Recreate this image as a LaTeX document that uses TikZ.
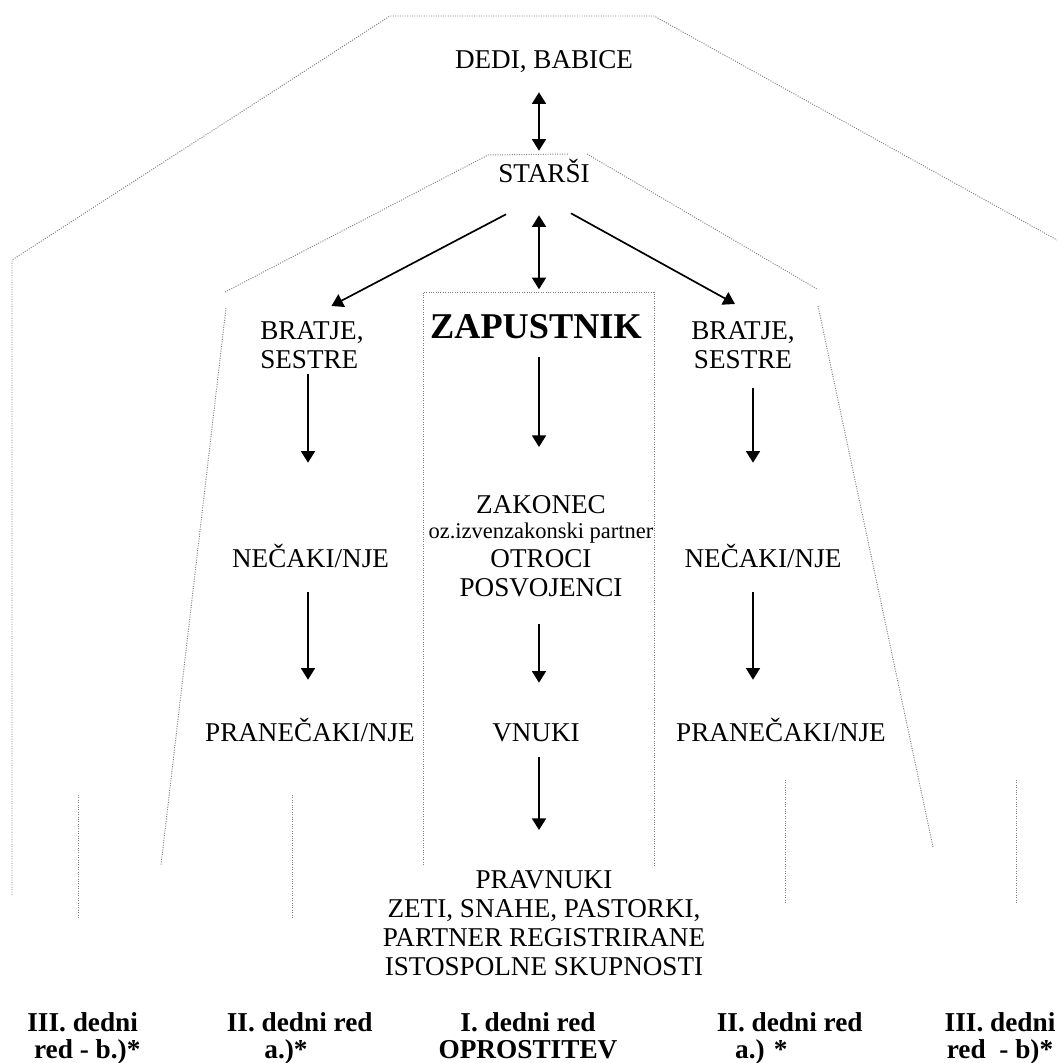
\documentclass[tikz,border=0pt]{standalone}
\usepackage{fontspec}
\setmainfont{Liberation Serif}
\usetikzlibrary{arrows.meta}

\tikzset{
  txt/.style={inner sep=0pt, font=\fontsize{19.3}{20.6}\selectfont, text height=12.8pt, text depth=0pt, anchor=base},
  txtm/.style={inner sep=0pt, font=\fontsize{19.3}{20.6}\selectfont, align=center, anchor=north},
  order/.style={inner sep=0pt, font=\bfseries\fontsize{19.4}{19.2}\selectfont, align=center, anchor=north},
  guide/.style={densely dotted, draw=gray, line width=0.7pt},
  line/.style={draw, line width=1.2pt},
  >={Triangle[width=0.35cm,length=0.29cm]}
}

\begin{document}
\begin{tikzpicture}[x=0.025cm, y=-0.025cm]
  \useasboundingbox (0,0) rectangle (1057,1063);

  % dotted borders of the orders
  \draw[guide] (12,895) -- (12,260) -- (390,16) -- (654,16) -- (1057,240);
  \draw[guide] (225,292) -- (488,155) -- (569,154);
  \draw[guide] (587,154) -- (817,289);
  \draw[guide] (226,308) -- (161,865);
  \draw[guide] (818,306) -- (933,847);
  \draw[guide] (423,865) -- (423,292) -- (654,292) -- (654,865);
  \foreach \x/\ya/\yb in {78/795/918, 292/795/918, 785/780/903, 1016/780/903}
    \draw[guide] (\x,\ya) -- (\x,\yb);

  % relatives
  \node[txt] (dedi) at (544,69) {DEDI, BABICE};
  \node[txt] (starsi) at (544,183) {STARŠI};
  \node[txt, font=\bfseries\fontsize{25.8}{28}\selectfont, text height=17.4pt] (zap) at (536,338) {ZAPUSTNIK};
  \node[txtm, align=left, anchor=north west] (bratjeL) at (260,321) {BRATJE,\\SESTRE};
  \node[txtm] (bratjeR) at (743,321) {BRATJE,\\SESTRE};
  \node[txt] (necakiL) at (310.5,567) {NEČAKI/NJE};
  \node[txt] (necakiR) at (763,567) {NEČAKI/NJE};
  \node[txt] (pranL) at (310,741) {PRANEČAKI/NJE};
  \node[txt] (pranR) at (781,741) {PRANEČAKI/NJE};
  \node[txtm] (zak) at (541,495) {ZAKONEC\\[-2.9pt]{\fontsize{16}{17}\selectfont oz.izvenzakonski partner}\\OTROCI\\POSVOJENCI};
  \node[txt] (vnuki) at (536,741) {VNUKI};
  \node[txtm] (prav) at (544,870) {PRAVNUKI\\ZETI, SNAHE, PASTORKI,\\PARTNER REGISTRIRANE\\ISTOSPOLNE SKUPNOSTI};

  % orders
  \node[order, align=left, anchor=north west] (red3L) at (27,1012) {III. dedni\\\hspace*{0.17cm}red - b.)*};
  \node[order, align=left, anchor=north west] (red2L) at (226.5,1012) {II. dedni red\\\hspace*{0.94cm}a.)*};
  \node[order] (red1) at (528,1012) {I. dedni red\\OPROSTITEV};
  \node[order, align=left, anchor=north west] (red2R) at (716.5,1012) {II. dedni red\\\hspace*{0.46cm}a.) *};
  \node[order] (red3R) at (1000,1012) {III. dedni\\red\ \ - b)*};

  % arrows
  \coordinate (axisC) at (539,0);
  \coordinate (axisL) at (308,0);
  \coordinate (axisR) at (753,0);
  \draw[line, <->, shorten <=0.575cm, shorten >=0.35cm] (dedi.south -| axisC) -- (starsi.north -| axisC);
  \draw[line, <->, shorten <=0.8cm, shorten >=0.6cm] (starsi.south -| axisC) -- (zap.north -| axisC);
  \draw[line, ->] ([shift={(8,31)}]starsi.south west) -- ([shift={(19.5,-15)}]bratjeL.north);
  \draw[line, ->] ([shift={(-19,30)}]starsi.south east) -- ([shift={(-8,-17)}]bratjeR.north);
  \draw[line, ->, shorten <=0.475cm, shorten >=1.2cm] (zap.south -| axisC) -- (zak.north -| axisC);
  \draw[line, ->, shorten <=0.675cm, shorten >=1.0cm] (zak.south -| axisC) -- (vnuki.north -| axisC);
  \draw[line, ->, shorten <=0.4cm, shorten >=1.0cm] (vnuki.south -| axisC) -- (prav.north -| axisC);
  \draw[line, ->, shorten <=0.125cm, shorten >=2.15cm] (bratjeL.south -| axisL) -- (necakiL.north -| axisL);
  \draw[line, ->, shorten <=0.625cm, shorten >=1.075cm] (necakiL.south -| axisL) -- (pranL.north -| axisL);
  \draw[line, ->, shorten <=0.475cm, shorten >=2.15cm] (bratjeR.south -| axisR) -- (necakiR.north -| axisR);
  \draw[line, ->, shorten <=0.625cm, shorten >=1.075cm] (necakiR.south -| axisR) -- (pranR.north -| axisR);
\end{tikzpicture}
\end{document}
